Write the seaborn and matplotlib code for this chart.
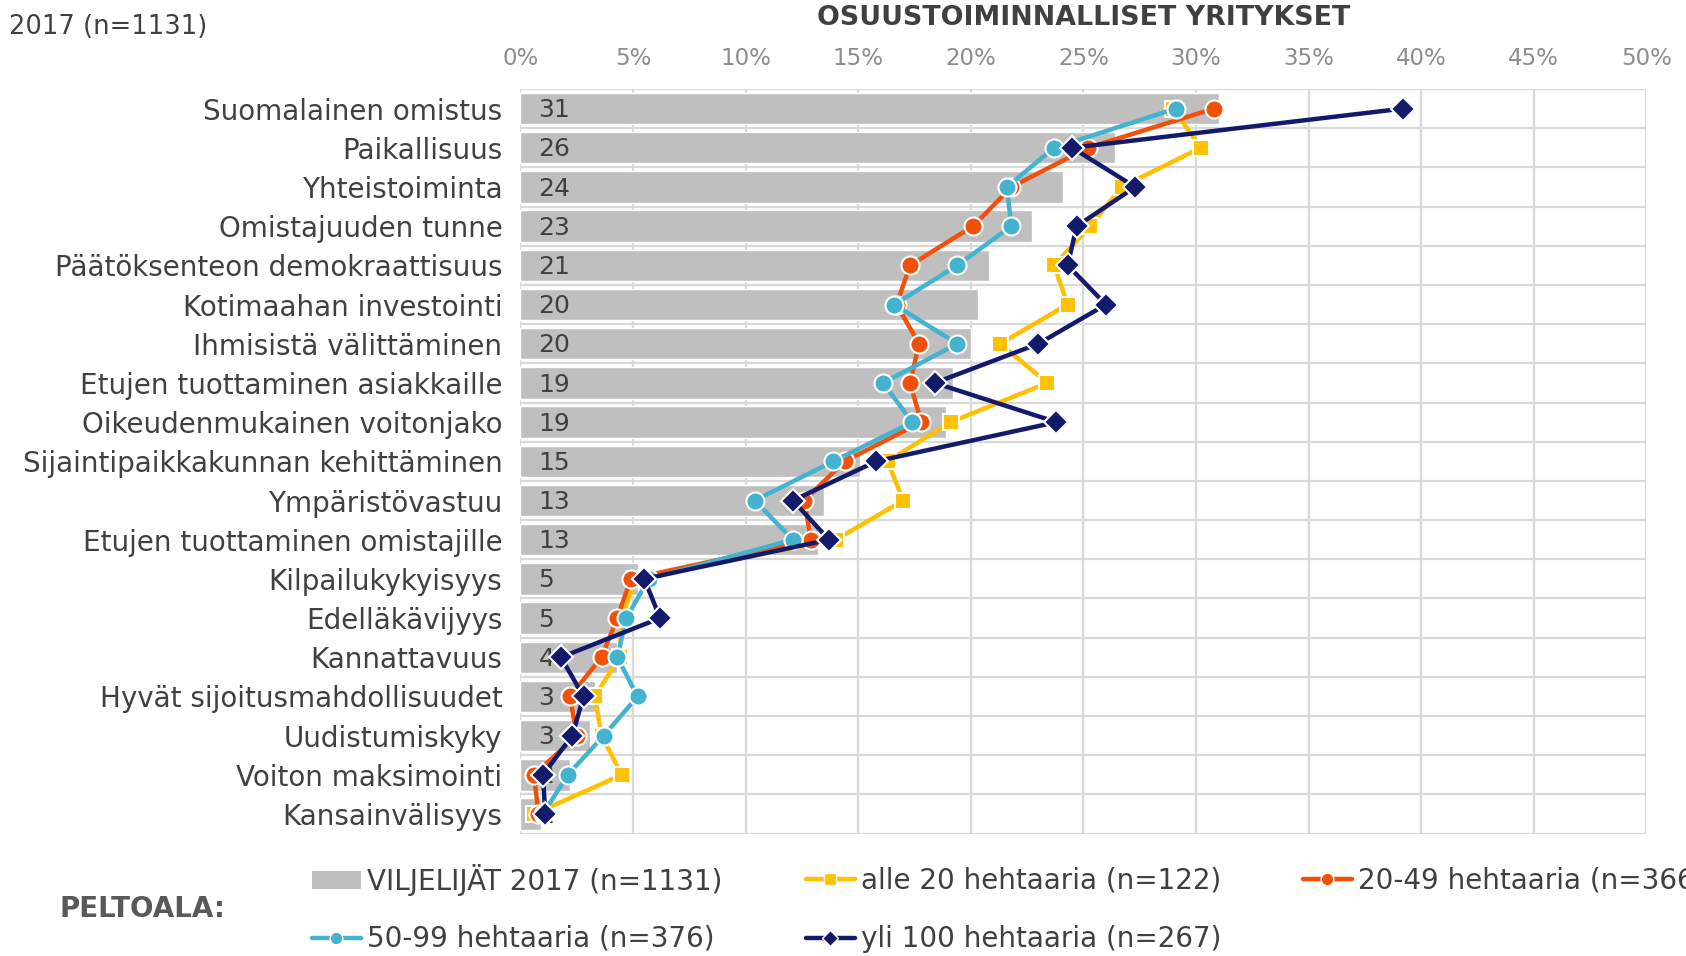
import matplotlib
matplotlib.use("Agg")
import matplotlib.pyplot as plt
import seaborn as sns
import numpy as np
import pandas as pd
from matplotlib.lines import Line2D
from matplotlib.patches import Patch

sns.set_theme(style="white")
plt.rcParams['font.family'] = ['DejaVu Sans']

categories = [
    "Suomalainen omistus", "Paikallisuus", "Yhteistoiminta", "Omistajuuden tunne",
    "Päätöksenteon demokraattisuus", "Kotimaahan investointi", "Ihmisistä välittäminen",
    "Etujen tuottaminen asiakkaille", "Oikeudenmukainen voitonjako",
    "Sijaintipaikkakunnan kehittäminen", "Ympäristövastuu", "Etujen tuottaminen omistajille",
    "Kilpailukykyisyys", "Edelläkävijyys", "Kannattavuus", "Hyvät sijoitusmahdollisuudet",
    "Uudistumiskyky", "Voiton maksimointi", "Kansainvälisyys",
]
viljelijat = [31.0, 26.4, 24.1, 22.7, 20.8, 20.3, 20.0, 19.2, 18.9, 15.1, 13.5, 13.2,
              5.2, 4.5, 4.3, 3.3, 3.1, 2.2, 0.9]
viljelijat_labels = ["31", "26", "24", "23", "21", "20", "20", "19", "19", "15", "13", "13",
                     "5", "5", "4", "3", "3", "2", "1"]
alle20 = [29.0, 30.2, 26.7, 25.3, 23.7, 24.3, 21.3, 23.4, 19.1, 16.3, 17.0, 14.0,
          5.1, 4.5, 4.4, 3.3, 3.6, 4.5, 0.6]
h20_49 = [30.8, 25.2, 21.8, 20.1, 17.3, 16.7, 17.7, 17.3, 17.8, 14.4, 12.6, 12.9,
          4.9, 4.3, 3.6, 2.2, 2.5, 0.6, 0.8]
h50_99 = [29.1, 23.7, 21.6, 21.8, 19.4, 16.6, 19.4, 16.1, 17.4, 13.9, 10.4, 12.1,
          5.7, 4.7, 4.3, 5.2, 3.7, 2.1, 1.0]
yli100 = [39.2, 24.5, 27.3, 24.7, 24.3, 26.0, 23.0, 18.4, 23.8, 15.8, 12.1, 13.7,
          5.5, 6.2, 1.8, 2.8, 2.3, 1.0, 1.1]
x_ticks = [0, 5, 10, 15, 20, 25, 30, 35, 40, 45, 50]
x_tick_labels = ["0%", "5%", "10%", "15%", "20%", "25%", "30%", "35%", "40%", "45%", "50%"]
series_names = ["alle 20 hehtaaria (n=122)", "20-49 hehtaaria (n=366)",
                "50-99 hehtaaria (n=376)", "yli 100 hehtaaria (n=267)"]
bar_name = "VILJELIJÄT 2017 (n=1131)"

GRAY = "#bfbfbf"
COLORS = ["#ffc000", "#f0500a", "#43b3cf", "#141a6b"]
MARKERS = ["s", "o", "o", "D"]
MSIZES = [11.5, 13, 13, 12]
TXT = "#404040"
GRID = "#d9d9d9"

fig = plt.figure(figsize=(16.86, 9.56), dpi=100)
ax = fig.add_axes([0.3087, 0.128, 0.6678, 0.7789])

df_bar = pd.DataFrame({"cat": categories, "val": viljelijat})
sns.barplot(data=df_bar, x="val", y="cat", orient="h", color=GRAY, width=0.8,
            saturation=1, ax=ax, zorder=2)

pos = np.arange(len(categories))
for name, vals, col, mk, ms in zip(series_names, [alle20, h20_49, h50_99, yli100],
                                   COLORS, MARKERS, MSIZES):
    d = pd.DataFrame({"x": vals, "y": pos})
    sns.lineplot(data=d, x="x", y="y", sort=False, estimator=None, ax=ax,
                 color=col, linewidth=3.2, marker=mk, markersize=ms,
                 markeredgecolor="white", markeredgewidth=1.5, zorder=3)

for i, lab in enumerate(viljelijat_labels):
    ax.text(0.8, i + 0.04, lab, ha="left", va="center", fontsize=18, color=TXT, zorder=2.5)

ax.set_xlim(0, 50)
ax.set_ylim(len(categories) - 0.5, -0.5)
ax.set_xticks(x_ticks)
ax.set_xticklabels(x_tick_labels)
ax.xaxis.tick_top()
ax.tick_params(axis="x", length=0, pad=14, labelsize=16.5, labelcolor="#8c8c8c")
ax.set_yticks(pos)
ax.set_yticklabels(categories)
ax.tick_params(axis="y", length=0, pad=13, labelsize=20, labelcolor=TXT)
ax.set_xlabel("")
ax.set_ylabel("")

for x in x_ticks:
    ax.axvline(x, color=GRID, lw=1.6, zorder=1)
for b in np.arange(-0.5, len(categories), 1.0):
    ax.axhline(b, color=GRID, lw=1.6, zorder=1)
for s in ax.spines.values():
    s.set_visible(False)

fig.text(1083.4 / 1686, 1 - 18 / 956, "OSUUSTOIMINNALLISET YRITYKSET", ha="center",
         va="center", fontsize=19.4, fontweight="bold", color=TXT)
fig.text(9 / 1686, 1 - 27 / 956, "2017 (n=1131)", ha="left", va="center",
         fontsize=18.5, color=TXT)
fig.text(59 / 1686, 1 - 909 / 956, "PELTOALA:", ha="left", va="center",
         fontsize=20, fontweight="bold", color="#595959")

# legend entries placed individually
handles = [Patch(facecolor=GRAY, edgecolor="none")]
for col, mk, ms in zip(COLORS, MARKERS, MSIZES):
    handles.append(Line2D([0], [0], color=col, lw=3.2, marker=mk, markersize=ms * 0.7,
                          markeredgecolor="white", markeredgewidth=1.0))
labels = [bar_name] + series_names
anchors = [(312, 880), (806, 880), (1303, 880), (312, 939), (806, 939)]
for h, l, (ax_x, ax_y) in zip(handles, labels, anchors):
    leg = fig.legend([h], [l], loc="center left",
                     bbox_to_anchor=(ax_x / 1686, 1 - ax_y / 956),
                     frameon=False, fontsize=20, handlelength=1.75, handleheight=0.6,
                     handletextpad=0.22, borderpad=0, borderaxespad=0)
    for t in leg.get_texts():
        t.set_color(TXT)

fig.savefig("out.png", dpi=100)
